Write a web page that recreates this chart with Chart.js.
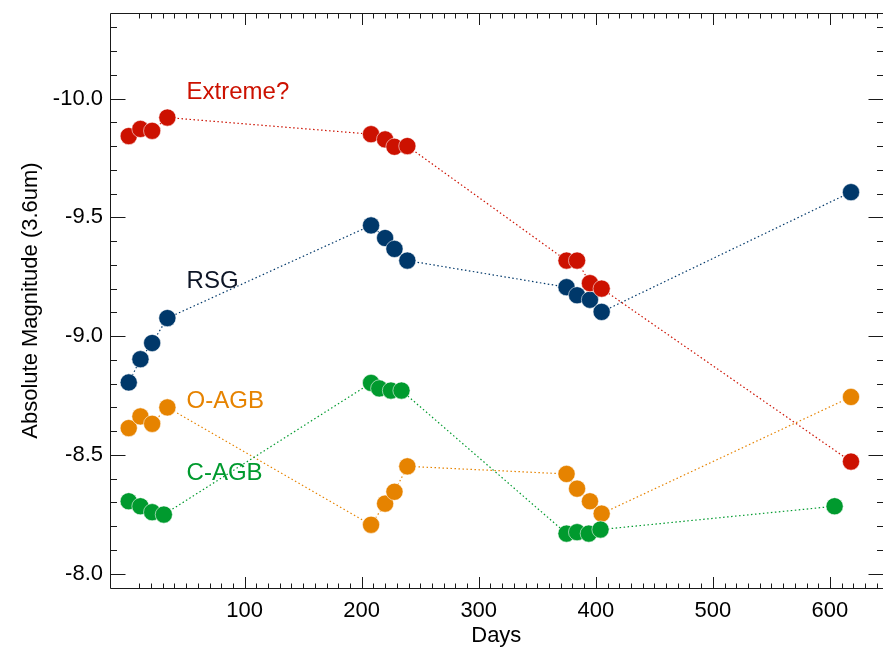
<!DOCTYPE html>
<html>
<head>
<meta charset="utf-8">
<title>Absolute Magnitude vs Days</title>
<script src="https://cdn.jsdelivr.net/npm/chart.js@4.4.1/dist/chart.umd.min.js"></script>
<style>
  html, body { margin: 0; padding: 0; background: #fff; overflow: hidden; }
  #wrap { width: 892px; height: 647px; }
</style>
</head>
<body>
<div id="wrap"><canvas id="magChart" width="892" height="647"></canvas></div>
<script>
// Données
const daysMain = [1, 11, 21, 34, 208, 220, 228, 239, 375, 384, 395, 405, 618];
const daysCagb = [1, 11, 21, 31, 208, 215, 225, 234, 375, 384, 394, 404, 604];

const magExtreme = [-9.842, -9.872, -9.864, -9.920, -9.850, -9.828, -9.797, -9.800, -9.318, -9.318, -9.223, -9.200, -8.472];
const magRsg = [-8.805, -8.903, -8.971, -9.076, -9.466, -9.413, -9.367, -9.318, -9.206, -9.172, -9.153, -9.102, -9.606];
const magOagb = [-8.613, -8.662, -8.631, -8.700, -8.206, -8.295, -8.345, -8.452, -8.420, -8.358, -8.305, -8.253, -8.744];
const magCagb = [-8.305, -8.284, -8.259, -8.249, -8.803, -8.780, -8.771, -8.771, -8.169, -8.175, -8.169, -8.186, -8.284];

const xTickLabels = [100, 200, 300, 400, 500, 600];
const yTickLabels = [-10.0, -9.5, -9.0, -8.5, -8.0];

const FONT = "'Liberation Sans', Arial, Helvetica, sans-serif";
const AXIS_COLOR = "#1a1a1a";

function pairs(xs, ys) {
  return xs.map((x, i) => ({ x: x, y: ys[i] }));
}

function series(label, xs, ys, color, order) {
  return {
    label: label,
    data: pairs(xs, ys),
    order: order,
    borderColor: color,
    borderWidth: 1.2,
    borderDash: [1.5, 2.5],
    backgroundColor: color,
    pointBackgroundColor: color,
    pointBorderColor: "rgba(255,255,255,0.7)",
    pointBorderWidth: 0.8,
    pointRadius: 8.6,
    tension: 0,
    fill: false,
  };
}

// Pas de marge automatique autour des axes : la zone de tracé est fixée à la main
function noScalePadding(scale) {
  scale.paddingTop = 0;
  scale.paddingBottom = 0;
  scale.paddingLeft = 0;
  scale.paddingRight = 0;
}

// Cadre façon IDL : axes sur les 4 côtés, graduations vers l'intérieur
const frameTicks = {
  id: "frameTicks",
  afterDraw(chart) {
    const { ctx, chartArea: a, scales } = chart;
    const xs = scales.x, ys = scales.y;
    const L = Math.round(a.left) + 0.5, R = Math.round(a.right) + 0.5;
    const T = Math.round(a.top) + 0.5, B = Math.round(a.bottom) + 0.5;
    ctx.save();
    ctx.strokeStyle = AXIS_COLOR;
    ctx.lineWidth = 1;
    ctx.beginPath();
    ctx.rect(L, T, R - L, B - T);

    // axe X : majeures tous les 100, mineures tous les 10
    for (let v = 10; v <= 640; v += 10) {
      const px = Math.round(xs.getPixelForValue(v)) + 0.5;
      const len = v % 100 === 0 ? 11.5 : 5;
      ctx.moveTo(px, B); ctx.lineTo(px, B - len);
      ctx.moveTo(px, T); ctx.lineTo(px, T + len);
    }
    // axe Y : majeures tous les 0.5, mineures tous les 0.1
    for (let k = -103; k <= -80; k++) {
      const v = k / 10;
      const py = Math.round(ys.getPixelForValue(v)) + 0.5;
      const len = k % 5 === 0 ? 15 : 6.5;
      ctx.moveTo(L, py); ctx.lineTo(L + len, py);
      ctx.moveTo(R, py); ctx.lineTo(R - len, py);
    }
    ctx.stroke();
    ctx.restore();
  },
};

// Étiquettes des groupes dans le graphique
const groupLabels = {
  id: "groupLabels",
  afterDatasetsDraw(chart, args, opts) {
    const { ctx, scales } = chart;
    ctx.save();
    ctx.font = "24px " + FONT;
    ctx.textAlign = "left";
    ctx.textBaseline = "alphabetic";
    opts.items.forEach((it) => {
      ctx.fillStyle = it.color;
      ctx.fillText(it.text, scales.x.getPixelForValue(it.x), scales.y.getPixelForValue(it.y));
    });
    ctx.restore();
  },
};

document.addEventListener("DOMContentLoaded", () => {
  const ctx = document.getElementById("magChart");

  new Chart(ctx, {
    type: "line",
    data: {
      datasets: [
        series("Extreme?", daysMain, magExtreme, "#cc1100", 0),
        series("C-AGB", daysCagb, magCagb, "#009a2e", 1),
        series("O-AGB", daysMain, magOagb, "#e68300", 2),
        series("RSG", daysMain, magRsg, "#00386a", 3),
      ],
    },
    options: {
      responsive: false,
      animation: false,
      devicePixelRatio: 1,
      layout: { padding: { top: 13, right: 4.5, left: 0, bottom: 0 } },
      plugins: {
        legend: { display: false },
        tooltip: { enabled: false },
        groupLabels: {
          items: [
            { text: "Extreme?", x: 50.4, y: -10.0, color: "#cc1100" },
            { text: "RSG", x: 50.4, y: -9.204, color: "#0d1526" },
            { text: "O-AGB", x: 50.4, y: -8.697, color: "#e68300" },
            { text: "C-AGB", x: 50.4, y: -8.396, color: "#009a2e" },
          ],
        },
      },
      scales: {
        x: {
          type: "linear",
          min: -15,
          max: 645,
          grid: { display: false, drawTicks: false },
          border: { display: false },
          afterBuildTicks: (scale) => {
            scale.ticks = xTickLabels.map((v) => ({ value: v }));
          },
          afterFit: (scale) => {
            scale.height = 59;
            noScalePadding(scale);
          },
          ticks: {
            autoSkip: false,
            maxRotation: 0,
            padding: 10,
            color: "#000",
            font: { family: FONT, size: 22 },
          },
          title: {
            display: true,
            text: "Days",
            color: "#000",
            padding: { top: 0, bottom: 0 },
            font: { family: FONT, size: 22, lineHeight: 1 },
          },
        },
        y: {
          type: "linear",
          reverse: true,
          min: -10.36,
          max: -7.94,
          grid: { display: false, drawTicks: false },
          border: { display: false },
          afterBuildTicks: (scale) => {
            scale.ticks = yTickLabels.map((v) => ({ value: v }));
          },
          afterFit: (scale) => {
            scale.width = 110;
            noScalePadding(scale);
          },
          ticks: {
            autoSkip: false,
            padding: 7,
            color: "#000",
            font: { family: FONT, size: 22 },
            callback: (value) => Number(value).toFixed(1),
          },
          title: {
            display: true,
            text: "Absolute Magnitude (3.6um)",
            color: "#000",
            padding: { top: 19.5, bottom: 0 },
            font: { family: FONT, size: 22, lineHeight: 1 },
          },
        },
      },
    },
    plugins: [frameTicks, groupLabels],
  });
});
</script>
</body>
</html>
